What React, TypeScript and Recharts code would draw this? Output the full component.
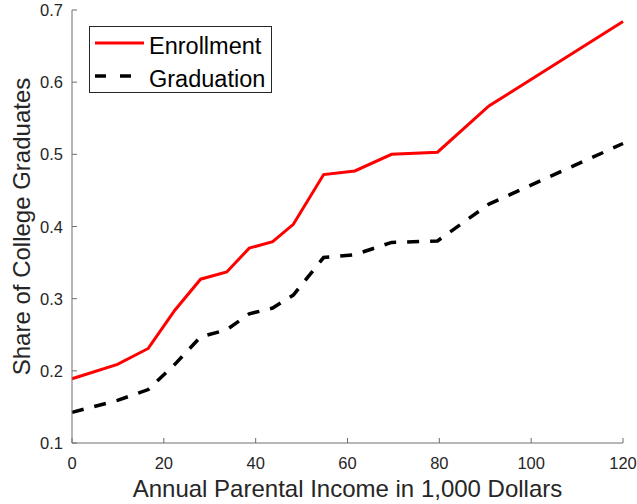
import React from 'react';
import { LineChart, Line, XAxis, YAxis, Legend, Label } from 'recharts';

// values
const income = [0, 9.9, 16.6, 22.4, 28, 33.7, 38.6, 43.7, 48.2, 54.8, 61.6, 69.6, 79.6, 90.8, 120];
const enrollment = [0.189, 0.209, 0.231, 0.284, 0.327, 0.337, 0.37, 0.379, 0.403, 0.472, 0.477, 0.5, 0.503, 0.567, 0.684];
const graduation = [0.1425, 0.159, 0.174, 0.209, 0.247, 0.257, 0.279, 0.287, 0.305, 0.357, 0.361, 0.378, 0.38, 0.431, 0.515];
const xTicks = [0, 20, 40, 60, 80, 100, 120];
const yTicks = [0.1, 0.2, 0.3, 0.4, 0.5, 0.6, 0.7];

const data = income.map((x, i) => ({ income: x, enrollment: enrollment[i], graduation: graduation[i] }));

const AXIS = '#6e6e6e';
const TEXT = '#262626';
const FONT = '"Liberation Sans", Arial, sans-serif';

const BottomTick = (props: any) => {
  const { x, y, payload } = props;
  return (
    <g>
      <line x1={x} x2={x} y1={y} y2={y - 5} stroke={AXIS} />
      <text x={x} y={y + 26} textAnchor="middle" fontSize={16.5} fill={TEXT}>{String(payload.value)}</text>
    </g>
  );
};

const TopTick = (props: any) => {
  const { x, y } = props;
  return <line x1={x} x2={x} y1={y} y2={y + 5} stroke={AXIS} />;
};

const LeftTick = (props: any) => {
  const { x, y, payload } = props;
  return (
    <g>
      <line x1={x} x2={x + 5} y1={y} y2={y} stroke={AXIS} />
      <text x={x - 9} y={y + 6} textAnchor="end" fontSize={16.5} fill={TEXT}>{String(payload.value)}</text>
    </g>
  );
};

const RightTick = (props: any) => {
  const { x, y } = props;
  return <line x1={x} x2={x - 5} y1={y} y2={y} stroke={AXIS} />;
};

const XTitle = (props: any) => {
  const { x, y, width } = props.viewBox;
  return (
    <text x={x + width / 2} y={y + 54} textAnchor="middle" fontSize={24} fill={TEXT}>
      Annual Parental Income in 1,000 Dollars
    </text>
  );
};

const YTitle = (props: any) => {
  const { x, y, height } = props.viewBox;
  const cx = x + 30;
  const cy = y + height / 2;
  return (
    <text x={cx} y={cy} transform={`rotate(-90 ${cx} ${cy})`} textAnchor="middle" fontSize={24} fill={TEXT}>
      Share of College Graduates
    </text>
  );
};

const LegendBox = (props: any) => {
  const items = props.payload || [];
  return (
    <svg width={183} height={67} style={{ display: 'block', fontFamily: FONT }}>
      <rect x={0.5} y={0.5} width={182} height={66} fill="#fff" stroke={TEXT} />
      {items.map((it: any, i: number) => {
        const ly = 17 + i * 33;
        const dashed = i > 0;
        return (
          <g key={it.value}>
            <line
              x1={6}
              x2={dashed ? 43 : 55}
              y1={ly}
              y2={ly}
              stroke={it.color}
              strokeWidth={dashed ? 3.5 : 3}
              strokeDasharray={dashed ? '11 14' : undefined}
            />
            <text x={60} y={ly + 11} fontSize={23.5} fill="#000">{it.value}</text>
          </g>
        );
      })}
    </svg>
  );
};

const App: React.FC = () => {
  return (
    <div style={{ position: 'absolute', left: 0, top: 0, width: 637, height: 504, background: '#fff', fontFamily: FONT }}>
      <LineChart width={637} height={504} data={data} margin={{ top: 10, right: 14, bottom: 0, left: 0 }} style={{ fontFamily: FONT }}>
        <XAxis
          dataKey="income"
          type="number"
          domain={[0, 120]}
          ticks={xTicks}
          interval={0}
          height={61}
          tickSize={0}
          tickMargin={0}
          tickLine={false}
          tick={<BottomTick />}
          axisLine={{ stroke: AXIS }}
        >
          <Label content={<XTitle />} />
        </XAxis>
        <XAxis
          xAxisId="top"
          orientation="top"
          dataKey="income"
          type="number"
          domain={[0, 120]}
          ticks={xTicks}
          interval={0}
          height={0}
          tickSize={0}
          tickMargin={0}
          tickLine={false}
          tick={<TopTick />}
          axisLine={{ stroke: AXIS }}
        />
        <YAxis
          type="number"
          domain={[0.1, 0.7]}
          ticks={yTicks}
          interval={0}
          width={72}
          tickSize={0}
          tickMargin={0}
          tickLine={false}
          tick={<LeftTick />}
          axisLine={{ stroke: AXIS }}
        >
          <Label content={<YTitle />} />
        </YAxis>
        <YAxis
          yAxisId="right"
          orientation="right"
          type="number"
          domain={[0.1, 0.7]}
          ticks={yTicks}
          interval={0}
          width={0}
          tickSize={0}
          tickMargin={0}
          tickLine={false}
          tick={<RightTick />}
          axisLine={{ stroke: AXIS }}
        />
        <Legend
          layout="vertical"
          align="center"
          verticalAlign="middle"
          content={<LegendBox />}
          wrapperStyle={{ left: 89, top: 26, width: 183, height: 67 }}
        />
        <Line
          dataKey="enrollment"
          name="Enrollment"
          type="linear"
          stroke="#ff0000"
          strokeWidth={3}
          dot={false}
          isAnimationActive={false}
        />
        <Line
          dataKey="graduation"
          name="Graduation"
          type="linear"
          stroke="#000000"
          strokeWidth={3.5}
          strokeDasharray="12 11"
          dot={false}
          isAnimationActive={false}
        />
      </LineChart>
    </div>
  );
};

export default App;
